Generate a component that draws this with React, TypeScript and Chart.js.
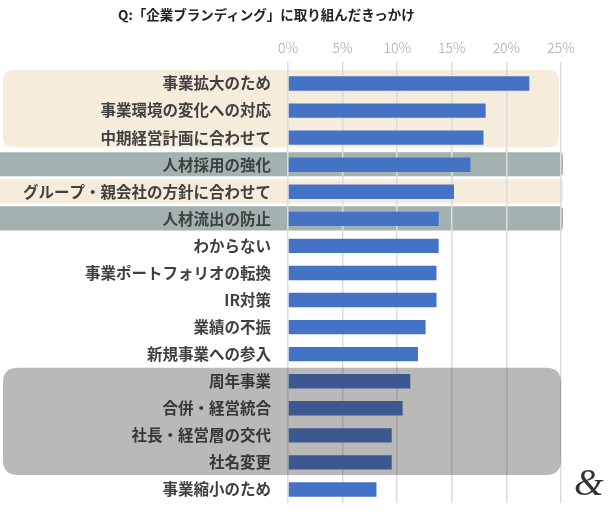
import React, { useEffect, useRef } from "react";
import { Chart, registerables } from "chart.js";

Chart.register(...registerables);

const chartTitle = "Q:「企業ブランディング」に取り組んだきっかけ";

const categories = [
  "事業拡大のため",
  "事業環境の変化への対応",
  "中期経営計画に合わせて",
  "人材採用の強化",
  "グループ・親会社の方針に合わせて",
  "人材流出の防止",
  "わからない",
  "事業ポートフォリオの転換",
  "IR対策",
  "業績の不振",
  "新規事業への参入",
  "周年事業",
  "合併・経営統合",
  "社長・経営層の交代",
  "社名変更",
  "事業縮小のため",
];

const values = [22.1, 18.1, 17.9, 16.7, 15.2, 13.8, 13.8, 13.6, 13.6, 12.6, 11.9, 11.2, 10.5, 9.5, 9.5, 8.1];

const xMax = 25;
const xStep = 5;

// highlighted category groups (by index)
const beigeGroups = [
  [0, 2],
  [4, 4],
];
const tealGroups = [
  [3, 3],
  [5, 5],
];
const grayGroups = [[11, 14]];

function roundRect(ctx: CanvasRenderingContext2D, x: number, y: number, w: number, h: number, r: number) {
  ctx.beginPath();
  ctx.moveTo(x + r, y);
  ctx.lineTo(x + w - r, y);
  ctx.quadraticCurveTo(x + w, y, x + w, y + r);
  ctx.lineTo(x + w, y + h - r);
  ctx.quadraticCurveTo(x + w, y + h, x + w - r, y + h);
  ctx.lineTo(x + r, y + h);
  ctx.quadraticCurveTo(x, y + h, x, y + h - r);
  ctx.lineTo(x, y + r);
  ctx.quadraticCurveTo(x, y, x + r, y);
  ctx.closePath();
}

function groupRect(chart: any, g: number[]) {
  const y = chart.scales.y;
  const half = (y.getPixelForValue(1) - y.getPixelForValue(0)) / 2;
  const top = y.getPixelForValue(g[0]) - half;
  const bottom = y.getPixelForValue(g[1]) + half;
  return { top, bottom };
}

const bandsPlugin = {
  id: "bands",
  beforeDraw(chart: any) {
    const ctx = chart.ctx as CanvasRenderingContext2D;
    const right = chart.chartArea.right;
    ctx.save();
    beigeGroups.forEach((g) => {
      const { top, bottom } = groupRect(chart, g);
      ctx.fillStyle = "#f5ecdc";
      if (g[0] !== g[1]) {
        roundRect(ctx, 3, top, right - 2 - 3, bottom - top - 4, 11);
      } else {
        roundRect(ctx, -4, top + 1, right + 2 + 4, bottom - top - 3, 4);
      }
      ctx.fill();
    });
    tealGroups.forEach((g) => {
      const { top, bottom } = groupRect(chart, g);
      ctx.fillStyle = "#a3b1b0";
      roundRect(ctx, -4, top + 1, right + 2 + 4, bottom - top - 3, 4);
      ctx.fill();
    });
    ctx.restore();
  },
  afterDatasetsDraw(chart: any) {
    const ctx = chart.ctx as CanvasRenderingContext2D;
    const right = chart.chartArea.right;
    ctx.save();
    grayGroups.forEach((g) => {
      const { top, bottom } = groupRect(chart, g);
      ctx.fillStyle = "rgba(40,36,34,0.32)";
      roundRect(ctx, 3, top, right - 3, bottom - top - 1, 15);
      ctx.fill();
    });
    ctx.restore();
  },
};

export default function App() {
  const canvasRef = useRef<HTMLCanvasElement | null>(null);

  useEffect(() => {
    if (!canvasRef.current) return;
    Chart.defaults.font.family = "'Noto Sans CJK JP', 'Noto Sans', sans-serif";
    const chart = new Chart(canvasRef.current, {
      type: "bar",
      data: {
        labels: categories,
        datasets: [
          {
            data: values,
            backgroundColor: "#4472c4",
            borderWidth: 0,
            barPercentage: 0.53,
            categoryPercentage: 1,
          },
        ],
      },
      options: {
        indexAxis: "y",
        animation: false,
        responsive: true,
        maintainAspectRatio: false,
        layout: { padding: { top: 0, right: 49, bottom: 15, left: 0 } },
        plugins: {
          legend: { display: false },
          tooltip: { enabled: false },
          title: { display: false },
        },
        scales: {
          x: {
            position: "top",
            min: 0,
            max: xMax,
            ticks: {
              stepSize: xStep,
              callback: (v: any) => v + "%",
              color: "#a6a6a6",
              font: { size: 14, weight: "300" as any },
              padding: 6,
            },
            grid: {
              color: "#dcdcdc",
              lineWidth: 1.5,
              tickLength: 8,
              drawTicks: true,
            },
            border: { display: false },
            afterFit: (scale: any) => {
              scale.height = 70;
            },
          },
          y: {
            ticks: {
              color: "#404040",
              font: { size: 15.5, weight: "bold" as any },
              padding: 0,
              autoSkip: false,
            },
            grid: {
              display: true,
              color: "rgba(0,0,0,0)",
              drawOnChartArea: false,
              drawTicks: true,
              tickLength: 17,
            },
            border: { display: false },
            afterFit: (scale: any) => {
              scale.width = 288;
            },
          },
        },
      },
      plugins: [bandsPlugin],
    });
    return () => chart.destroy();
  }, []);

  return (
    <div style={{ position: "absolute", left: 0, top: 0, width: 610, height: 518, background: "#fff" }}>
      <canvas ref={canvasRef} />
      <div
        style={{
          position: "absolute",
          left: 118,
          top: 4,
          fontFamily: "'Noto Sans CJK JP', sans-serif",
          fontWeight: "bold",
          fontSize: 13.5,
          color: "#222",
          whiteSpace: "nowrap",
          lineHeight: "20px",
        }}
      >
        {chartTitle}
      </div>
      <div
        style={{
          position: "absolute",
          left: 574,
          top: 462,
          fontFamily: "'Liberation Serif', 'DejaVu Serif', serif",
          fontStyle: "italic",
          fontSize: 38,
          color: "#333",
          lineHeight: "40px",
        }}
      >
        &amp;
      </div>
    </div>
  );
}
